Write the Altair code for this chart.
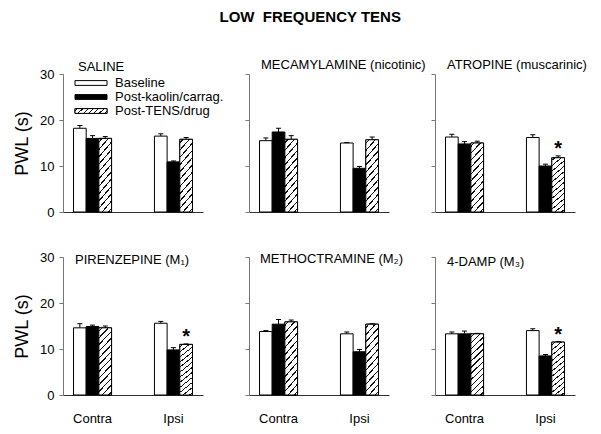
import altair as alt
import pandas as pd

# ---------------- data ----------------
panels = ["SALINE", "MECAMYLAMINE (nicotinic)", "ATROPINE (muscarinic)",
          "PIRENZEPINE (M\u2081)", "METHOCTRAMINE (M\u2082)", "4-DAMP (M\u2083)"]
sides = ["Contra", "Ipsi"]
conditions = ["Baseline", "Post-kaolin/carrag.", "Post-TENS/drug"]

# [panel][side] means (s) and SEM
baseline_mean = [[18.2, 16.5], [15.5, 15.0], [16.3, 16.2], [14.6, 15.6], [13.8, 13.3], [13.3, 14.0]]
baseline_err = [[0.6, 0.5], [0.6, 0.1], [0.6, 0.6], [0.9, 0.4], [0.2, 0.4], [0.4, 0.4]]
kaolin_mean = [[16.0, 10.9], [17.4, 9.5], [14.8, 10.0], [14.9, 9.8], [15.4, 9.4], [13.3, 8.5]]
kaolin_err = [[0.6, 0.2], [0.8, 0.4], [0.5, 0.4], [0.3, 0.5], [1.0, 0.5], [0.6, 0.3]]
tens_mean = [[16.0, 15.8], [15.8, 15.7], [15.0, 11.8], [14.6, 11.0], [15.9, 15.4], [13.3, 11.5]]
tens_err = [[0.4, 0.4], [0.8, 0.6], [0.4, 0.4], [0.4, 0.1], [0.4, 0.1], [0.1, 0.1]]
tens_sig = [[0, 0], [0, 0], [0, 1], [0, 1], [0, 0], [0, 1]]

rows = []
series = [(baseline_mean, baseline_err), (kaolin_mean, kaolin_err), (tens_mean, tens_err)]
for i, p in enumerate(panels):
    for j, s in enumerate(sides):
        for k, (m, e) in enumerate(series):
            rows.append(dict(panel=p, side=s, cond=conditions[k], mean=m[i][j], err=e[i][j],
                             sig=int(k == 2 and tens_sig[i][j] == 1)))
df = pd.DataFrame(rows)

# ---------------- style ----------------
FONT = "Liberation Sans"
W, H = 140, 138


def hatch(a, b, n, frac):
    stops = [alt.GradientStop(color="white", offset=0)]
    for k in range(n):
        c = (k + 0.5) / n
        lo, hi = c - frac / (2 * n), c + frac / (2 * n)
        stops += [alt.GradientStop(color="white", offset=lo), alt.GradientStop(color="#111111", offset=lo),
                  alt.GradientStop(color="#111111", offset=hi), alt.GradientStop(color="white", offset=hi)]
    stops.append(alt.GradientStop(color="white", offset=1))
    return alt.LinearGradient(gradient="linear", stops=stops, x1=0, y1=0, x2=a, y2=b)


bar_hatch = hatch(0.2308, 1.154, 12, 0.22)
leg_hatch = hatch(1.1285, 0.176, 7, 0.22)
fill_scale = alt.Scale(domain=conditions, range=["white", "black", "white"])
y_scale = alt.Scale(domain=[0, 30], nice=False, zero=True)
sym_path = "M-1,-0.15H1V0.15H-1Z"

title_dy = [11, 3.5, 3.5, 21, 14, 17]
title_dx = [15, 12, 12, 12, 11, 12]


def panel(i):
    row, col = divmod(i, 3)
    base = (alt.Chart(df)
            .transform_filter(alt.datum.panel == panels[i])
            .transform_calculate(hi="datum.mean + datum.err"))
    xax = dict(title=None, ticks=False, domainColor="#333333", domainWidth=1,
               labels=(row == 1), labelFontSize=13, labelPadding=17, labelAngle=0)
    x = alt.X("side:N", scale=alt.Scale(domain=sides, paddingInner=0.53, paddingOuter=0.13),
              axis=alt.Axis(**xax))
    xo = alt.XOffset("cond:N", scale=alt.Scale(domain=conditions, paddingInner=0, paddingOuter=0))
    yax = dict(values=[0, 10, 20, 30], grid=False, domainColor="#777777", tickColor="#777777",
               tickSize=4, labels=(col == 0), labelFontSize=13, labelPadding=5)
    if col == 0:
        yax.update(title="PWL (s)", titleFontSize=18, titleFontWeight="normal", titlePadding=8)
    else:
        yax.update(title=None)

    def yq(field):
        return alt.Y(field, scale=y_scale, axis=alt.Axis(**yax))

    bars = base.mark_bar(stroke="black", strokeWidth=1).encode(
        x=x, xOffset=xo, y=yq("mean:Q"),
        fill=alt.Fill("cond:N", scale=fill_scale, legend=None))
    hb = base.transform_filter(alt.datum.cond == conditions[2]).mark_bar(
        fill=bar_hatch, stroke="black", strokeWidth=1).encode(x=x, xOffset=xo, y=yq("mean:Q"))
    rule = base.mark_rule(color="black", strokeWidth=1).encode(
        x=x, xOffset=xo, y=yq("mean:Q"), y2="hi:Q")
    cap = base.mark_tick(color="black", thickness=1, size=5, opacity=1).encode(
        x=x, xOffset=xo, y=yq("hi:Q"))
    star = base.transform_filter(alt.datum.sig == 1).mark_text(
        text="*", fontSize=20, fontWeight="bold", baseline="alphabetic", dy=-1, font=FONT,
        color="black").encode(x=x, xOffset=xo, y=yq("hi:Q"))
    inner = alt.layer(bars, hb, rule, cap, star)

    if i == 0:
        leg = alt.Chart(pd.DataFrame({"cond": conditions}))
        ly = alt.Y("cond:N", scale=alt.Scale(type="point", domain=conditions, range=[9, 37], padding=0),
                   axis=None)
        sym = leg.mark_point(shape=sym_path, size=1024, filled=True, stroke="black", strokeWidth=1,
                             opacity=1).encode(x=alt.value(28), y=ly,
                                               fill=alt.Fill("cond:N", scale=fill_scale, legend=None))
        symh = leg.transform_filter(alt.datum.cond == conditions[2]).mark_point(
            shape=sym_path, size=1024, filled=True, fill=leg_hatch, stroke="black", strokeWidth=1,
            opacity=1).encode(x=alt.value(28), y=ly)
        txt = leg.mark_text(align="left", baseline="middle", fontSize=13, font=FONT, color="black").encode(
            x=alt.value(52), y=ly, text="cond:N")
        ch = alt.layer(inner, sym, symh, txt).resolve_scale(y="independent")
    else:
        ch = inner

    return ch.properties(
        width=W, height=H,
        title=alt.Title(panels[i], anchor="start", frame="group", fontSize=13, fontWeight="normal",
                        font=FONT, color="black", dx=title_dx[i], offset=5, dy=title_dy[i]))


chart = alt.concat(*[panel(i) for i in range(6)], columns=3,
                   spacing={"row": 45, "column": 46}, bounds="flush").properties(
    title=alt.Title("LOW\u00a0 FREQUENCY TENS", fontSize=15, fontWeight="bold", font=FONT,
                    anchor="middle", color="black", offset=34, dx=10),
    padding={"left": 5, "top": 1, "right": 5, "bottom": 5},
).configure(font=FONT).configure_view(stroke="transparent").configure_axis(
    labelFont=FONT, titleFont=FONT, labelColor="black", titleColor="black")

chart.save("out.html", embed_options={"renderer": "svg", "actions": False})
